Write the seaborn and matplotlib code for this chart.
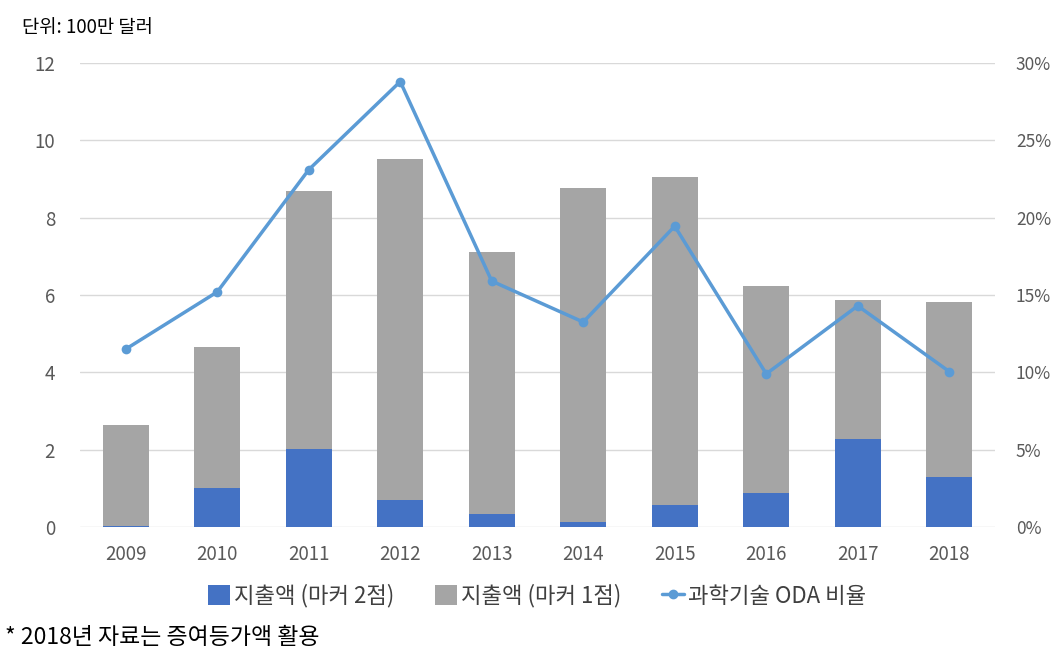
import numpy as np
import pandas as pd
import matplotlib
matplotlib.use("Agg")
import matplotlib.pyplot as plt
import seaborn as sns
from matplotlib.patches import Patch
from matplotlib.lines import Line2D
from matplotlib.ticker import FuncFormatter

# data
years = ["2009", "2010", "2011", "2012", "2013", "2014", "2015", "2016", "2017", "2018"]
marker2 = [0.03, 1.00, 2.01, 0.71, 0.34, 0.13, 0.57, 0.87, 2.27, 1.29]   # 지출액 (마커 2점)
marker1 = [2.61, 3.65, 6.68, 8.81, 6.76, 8.64, 8.48, 5.37, 3.60, 4.53]   # 지출액 (마커 1점)
oda_ratio = [11.5, 15.2, 23.1, 28.8, 15.9, 13.25, 19.45, 9.9, 14.3, 10.05]  # 과학기술 ODA 비율 (%)

sns.set_style("white")
plt.rcParams['font.family'] = ['Noto Sans CJK KR', 'DejaVu Sans']

BLUE = "#4472C4"
GRAY = "#A5A5A5"
LINE = "#5B9BD5"
TICK = "#595959"

df = pd.DataFrame({"year": years, "m2": marker2, "m1": marker1, "ratio": oda_ratio})
df["total"] = df["m2"] + df["m1"]

fig = plt.figure(figsize=(10.64, 6.61), dpi=100)
ax = fig.add_axes([80 / 1064, 1 - 527 / 661, 915 / 1064, 464 / 661])

# stacked bars: total in gray, marker-2 part in blue on top of it
sns.barplot(data=df, x="year", y="total", color=GRAY, width=0.5, saturation=1,
            linewidth=0, ax=ax, zorder=2)
sns.barplot(data=df, x="year", y="m2", color=BLUE, width=0.5, saturation=1,
            linewidth=0, ax=ax, zorder=3)

ax.set_xlim(-0.5, len(years) - 0.5)
ax.set_ylim(0, 12)
ax.set_yticks(np.arange(0, 13, 2))
ax.yaxis.grid(True, color="#D9D9D9", linewidth=1)
ax.set_axisbelow(True)
ax.set_xlabel("")
ax.set_ylabel("")
for s in ax.spines.values():
    s.set_visible(False)
ax.tick_params(axis="both", length=0, labelsize=13.5, colors=TICK)
ax.tick_params(axis="x", pad=12)
ax.tick_params(axis="y", pad=18)

# ratio line on secondary axis
ax2 = ax.twinx()
sns.lineplot(x=np.arange(len(years)), y=df["ratio"], color=LINE, linewidth=2.5,
             marker="o", markersize=7, markeredgewidth=0, ax=ax2, zorder=4)
ax2.set_ylim(0, 30)
ax2.set_yticks(np.arange(0, 31, 5))
ax2.yaxis.set_major_formatter(FuncFormatter(lambda v, p: f"{int(v)}%"))
ax2.set_ylabel("")
for s in ax2.spines.values():
    s.set_visible(False)
ax2.tick_params(axis="y", length=0, labelsize=12.5, colors=TICK, pad=15)
ax2.set_xlim(-0.5, len(years) - 0.5)

handles = [
    Patch(facecolor=BLUE, edgecolor="none"),
    Patch(facecolor=GRAY, edgecolor="none"),
    Line2D([0], [0], color=LINE, linewidth=2.5, marker="o", markersize=6),
]
labels = ["지출액 (마커 2점)", "지출액 (마커 1점)", "과학기술 ODA 비율"]
fig.legend(handles, labels, loc="center", bbox_to_anchor=(537 / 1064, 1 - 596 / 661),
           ncol=3, frameon=False, fontsize=16, handlelength=1.0, handleheight=1.0,
           handletextpad=0.2, columnspacing=1.8, labelcolor="#404040")

fig.text(22 / 1064, 1 - 28 / 661, "단위: 100만 달러", fontsize=13.5, color="black",
         va="center", ha="left")
fig.text(5 / 1064, 1 - 637 / 661, "* 2018년 자료는 증여등가액 활용", fontsize=16.5,
         color="black", va="center", ha="left")

fig.savefig("out.png", dpi=100)
